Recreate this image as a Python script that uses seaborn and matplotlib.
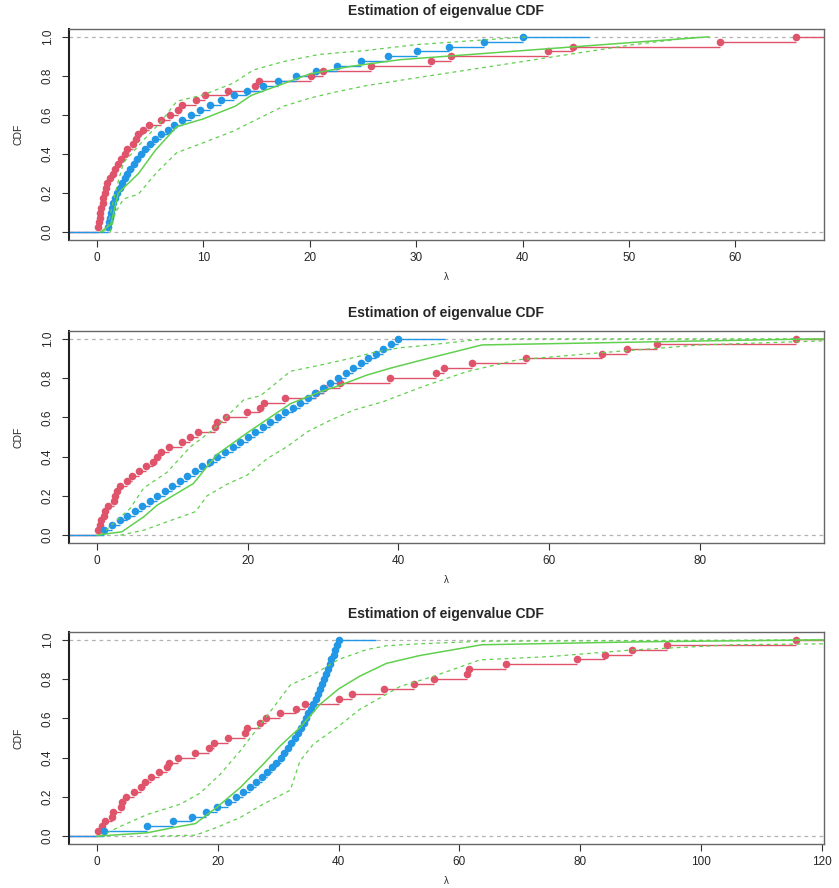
import numpy as np
import matplotlib
matplotlib.use("Agg")
import matplotlib.pyplot as plt
import seaborn as sns

RED = "#DF536B"
BLUE = "#2297E6"
GREEN = "#61D04F"
GREY = "#B3B3B3"

# ---- panel 1 ----
red_1 = [0.09, 0.19, 0.28, 0.31, 0.40, 0.53, 0.60, 0.72, 0.87, 0.94,
         1.19, 1.53, 1.66, 1.97, 2.25, 2.63, 2.84, 3.34, 3.69, 3.81,
         4.34, 4.88, 6.03, 6.90, 7.60, 7.97, 9.31, 10.16, 12.34, 14.84,
         15.25, 20.1, 21.2, 25.8, 31.4, 33.3, 42.4, 44.7, 58.6, 65.7]
blue_1 = [1.03, 1.09, 1.19, 1.28, 1.38, 1.50, 1.66, 1.91, 2.13, 2.38,
          2.59, 2.81, 3.13, 3.44, 3.75, 4.13, 4.53, 5.00, 5.50, 6.03,
          6.63, 7.28, 8.00, 8.81, 9.66, 10.63, 11.69, 12.84, 14.13, 15.56,
          17.03, 18.69, 20.56, 22.6, 24.84, 27.34, 30.1, 33.1, 36.4, 40.0]
mean_x_1 = [0.3, 1.3, 2.0, 3.9, 5.5, 7.5, 10, 13, 14.5, 17, 20, 24, 28.5, 57.5]
mean_y_1 = [0.0, 0.04, 0.2, 0.3, 0.42, 0.54, 0.58, 0.645, 0.7, 0.75, 0.81, 0.85, 0.883, 1.0]
hi_x_1 = [0.5, 0.94, 1.88, 2.5, 4.69, 5.94, 7.5, 10.0, 12.8, 14.7, 17.5, 20.9, 25.3, 30, 40.5]
hi_y_1 = [0.0, 0.017, 0.237, 0.356, 0.49, 0.56, 0.67, 0.703, 0.763, 0.83, 0.873, 0.91, 0.93, 0.96, 1.0]
lo_x_1 = [1.25, 1.72, 2.5, 3.9, 5.6, 7.5, 10.0, 12.8, 15.3, 17.5, 20, 22.2, 25.3, 30, 37.2, 44.1, 50.4, 56.5]
lo_y_1 = [0.0, 0.10, 0.17, 0.195, 0.305, 0.407, 0.458, 0.517, 0.585, 0.644, 0.686, 0.715, 0.75, 0.79, 0.85, 0.908, 0.96, 1.0]

# ---- panel 2 ----
red_2 = [0.13, 0.35, 0.53, 0.93, 1.02, 1.5, 2.2, 2.35, 2.7, 3.1,
         4.03, 4.65, 5.58, 6.46, 7.39, 7.96, 8.45, 9.51, 11.28, 12.3,
         13.45, 15.66, 15.93, 17.12, 19.9, 21.7, 22.17, 24.96, 29.1, 30.1,
         32.3, 38.85, 44.96, 46.07, 49.83, 56.9, 67.1, 70.3, 74.3, 92.8]
blue_2 = [1, 2, 3, 4, 5, 6, 7, 8, 9, 10, 11, 12, 13, 14, 15, 16, 17, 18, 19, 20,
          21, 22, 23, 24, 25, 26, 27, 28, 29, 30, 31, 32, 33, 34, 35, 36, 37, 38, 39, 40]
mean_x_2 = [0, 3.3, 6.2, 8, 12.8, 15.9, 19.9, 25.7, 29.6, 32.3, 35.8, 38.9, 42.9, 51.1, 74, 92.8, 96.6]
mean_y_2 = [0.0, 0.017, 0.093, 0.153, 0.263, 0.41, 0.52, 0.67, 0.73, 0.764, 0.815, 0.85, 0.89, 0.969, 0.985, 0.998, 1.0]
hi_x_2 = [0.44, 4.4, 6.2, 9.3, 12.4, 15.5, 19.5, 21.7, 25.7, 29.6, 33.6, 37.2, 40.3, 42.9, 51.5, 96.6]
hi_y_2 = [0.0, 0.136, 0.24, 0.32, 0.45, 0.54, 0.69, 0.71, 0.835, 0.866, 0.9, 0.935, 0.955, 0.964, 1.0, 1.0]
lo_x_2 = [3.1, 6.2, 9.3, 13.1, 14.6, 17.3, 19.9, 22.6, 25.2, 27.9, 31, 34.1, 38, 40.3, 43.5, 49.1, 55.8, 66.8, 80.1, 96.6]
lo_y_2 = [0.0, 0.025, 0.068, 0.12, 0.2, 0.26, 0.305, 0.39, 0.45, 0.526, 0.586, 0.637, 0.68, 0.714, 0.76, 0.833, 0.893, 0.929, 0.969, 0.99]

# ---- panel 3 ----
red_3 = [0.11, 0.88, 1.32, 2.48, 2.64, 4.02, 4.19, 4.74, 6.06, 7.22,
         7.99, 8.98, 10.25, 11.52, 11.96, 13.44, 16.25, 18.62, 19.34, 21.71,
         24.46, 24.9, 26.94, 27.99, 30.25, 33.0, 34.5, 40.0, 42.26, 47.5,
         52.5, 55.7, 61.2, 61.5, 67.7, 79.4, 84.0, 88.5, 94.3, 115.7]
blue_3 = [1.1, 8.3, 12.56, 15.65, 18.0, 19.94, 21.65, 23.0, 24.2, 25.3,
          26.3, 27.3, 28.1, 28.9, 29.6, 30.4, 31.0, 31.6, 32.1, 32.7,
          33.2, 33.7, 34.2, 34.6, 35.0, 35.4, 35.8, 36.2, 36.6, 36.9,
          37.2, 37.6, 37.9, 38.3, 38.6, 38.8, 39.2, 39.4, 39.7, 40.0]
mean_x_3 = [0, 8.3, 12.7, 16.3, 19.8, 23.7, 27.5, 30.3, 33.6, 36.9, 40, 43.5, 47.9, 53.4, 63.7, 90, 120.4]
mean_y_3 = [0.0, 0.017, 0.044, 0.064, 0.146, 0.247, 0.366, 0.459, 0.553, 0.671, 0.75, 0.815, 0.88, 0.92, 0.975, 0.99, 1.0]
hi_x_3 = [0.5, 3.9, 8.3, 13.8, 17.1, 20.4, 23.7, 27.5, 32, 35.8, 40, 44.6, 47.9, 53.4, 64, 120.4]
hi_y_3 = [0.0, 0.05, 0.11, 0.163, 0.22, 0.315, 0.434, 0.586, 0.77, 0.823, 0.9, 0.95, 0.97, 0.98, 0.993, 1.0]
lo_x_3 = [9.4, 16.3, 19.8, 23.7, 27.5, 32, 33.6, 35.8, 40, 43.5, 47.4, 50.2, 55.7, 63.4, 75, 88.8, 105.3, 120.4]
lo_y_3 = [0.0, 0.005, 0.044, 0.095, 0.163, 0.234, 0.383, 0.468, 0.56, 0.646, 0.714, 0.763, 0.814, 0.898, 0.915, 0.949, 0.975, 0.98]

panels = [
    (red_1, blue_1, (mean_x_1, mean_y_1), (hi_x_1, hi_y_1), (lo_x_1, lo_y_1), 10),
    (red_2, blue_2, (mean_x_2, mean_y_2), (hi_x_2, hi_y_2), (lo_x_2, lo_y_2), 20),
    (red_3, blue_3, (mean_x_3, mean_y_3), (hi_x_3, hi_y_3), (lo_x_3, lo_y_3), 20),
]

sns.set_theme(style="white")
plt.rcParams["font.family"] = ["Liberation Sans", "DejaVu Sans"]


def draw_ecdf(ax, values, color):
    vals = np.sort(np.asarray(values, dtype=float))
    knots, counts = np.unique(vals, return_counts=True)
    levels = np.cumsum(counts) / len(vals)
    # same extension rule as R's plot.stepfun
    dr = max(0.08 * (knots[-1] - knots[0]), np.median(np.diff(knots)))
    left = np.r_[knots[0] - 2 * dr, knots]
    right = np.r_[knots, knots[-1] + 2 * dr]
    ax.hlines(np.r_[0, levels], left, right, color=color, lw=1.0, zorder=2)
    sns.scatterplot(x=knots, y=levels, color=color, s=30, linewidth=0,
                    ax=ax, zorder=3, legend=False)


fig = plt.figure(figsize=(8.39, 8.88), dpi=100)
W, H = 839, 888
boxes = [(29, 240), (331, 543), (632, 844)]

for (red, blue, mean, hi, lo, step), (top, bot) in zip(panels, boxes):
    ax = fig.add_axes([69 / W, 1 - bot / H, 755 / W, (bot - top) / H])
    ax.axhline(0, color=GREY, ls=(0, (3, 3)), lw=0.9, zorder=1)
    ax.axhline(1, color=GREY, ls=(0, (3, 3)), lw=0.9, zorder=1)

    draw_ecdf(ax, red, RED)
    draw_ecdf(ax, blue, BLUE)

    sns.lineplot(x=mean[0], y=mean[1], sort=False, estimator=None, color=GREEN,
                 lw=1.1, ax=ax, zorder=4)
    for xs, ys in (hi, lo):
        sns.lineplot(x=xs, y=ys, sort=False, estimator=None, color=GREEN,
                     lw=0.9, ax=ax, zorder=4, dashes=False,
                     linestyle=(0, (3, 3)))

    xmax = max(red)
    pad = 0.04 * xmax
    ax.set_xlim(-pad, xmax + pad)
    ax.set_ylim(-0.04, 1.04)
    ax.set_xticks(np.arange(0, xmax + pad, step))
    ax.set_yticks([0, 0.2, 0.4, 0.6, 0.8, 1.0])
    ax.set_yticklabels(["0.0", "0.2", "0.4", "0.6", "0.8", "1.0"],
                       rotation=90, va="center")
    ax.tick_params(direction="out", length=5, width=0.8, color="#333333",
                   labelsize=8.5, left=True, bottom=True)
    ax.tick_params(axis="x", pad=3.5)
    ax.tick_params(axis="y", pad=6)
    for side in ["top", "right", "bottom"]:
        ax.spines[side].set_color("#666666")
        ax.spines[side].set_linewidth(1.0)
    ax.spines["left"].set_color("#222222")
    ax.spines["left"].set_linewidth(1.5)

    ax.set_title("Estimation of eigenvalue CDF", fontsize=10,
                 fontweight="bold", pad=10)
    ax.set_xlabel("λ", fontsize=7, labelpad=6)
    ax.set_ylabel("CDF", fontsize=7.5, labelpad=13)

fig.savefig("out.png", dpi=100)
